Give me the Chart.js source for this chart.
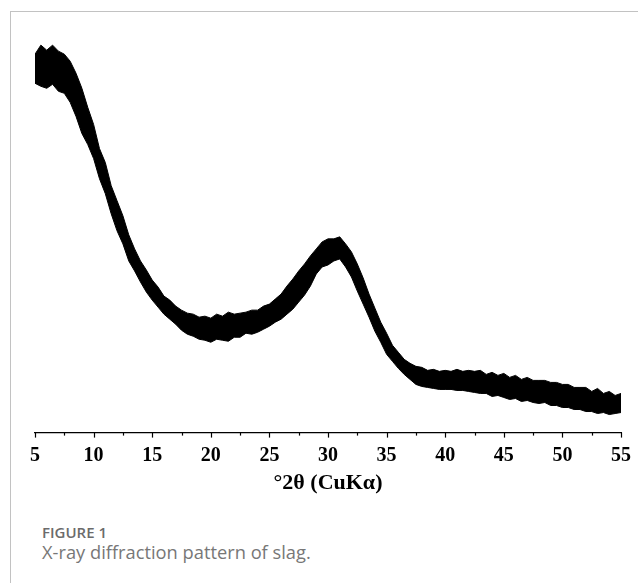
<!DOCTYPE html>
<html>
<head>
<meta charset="utf-8">
<script src="https://cdn.jsdelivr.net/npm/chart.js@4/dist/chart.umd.min.js"></script>
<style>
    html, body { margin: 0; padding: 0; background: #fff; }
    body { width: 638px; height: 583px; position: relative; overflow: hidden; }
    #frame { position: absolute; left: 10px; top: 11px; width: 640px; height: 600px;
             border-top: 1px solid #c2c2c2; border-left: 1px solid #c2c2c2; }
    #chart { position: absolute; left: 0; top: 0; }
    .cap { position: absolute; left: 42px; font-family: "Open Sans", sans-serif; white-space: nowrap; }
    #figno { top: 524px; font-size: 15px; line-height: 17px; font-weight: 600; color: #6b6b6b; }
    #figtxt { top: 541px; font-size: 18.3px; line-height: 21px; color: #777; }
</style>
</head>
<body>
<div id="frame"></div>
<canvas id="chart" width="638" height="499"></canvas>
<div class="cap" id="figno">FIGURE 1</div>
<div class="cap" id="figtxt">X-ray diffraction pattern of slag.</div>
<script>
// 2theta positions (degrees)
var twoTheta = [
    5, 5.5, 6, 6.5, 7, 7.5, 8, 8.5, 9, 9.5,
    10, 10.5, 11, 11.5, 12, 12.5, 13, 13.5, 14, 14.5,
    15, 15.5, 16, 16.5, 17, 17.5, 18, 18.5, 19, 19.5,
    20, 20.5, 21, 21.5, 22, 22.5, 23, 23.5, 24, 24.5,
    25, 25.5, 26, 26.5, 27, 27.5, 28, 28.5, 29, 29.5,
    30, 30.5, 31, 31.5, 32, 32.5, 33, 33.5, 34, 34.5,
    35, 35.5, 36, 36.5, 37, 37.5, 38, 38.5, 39, 39.5,
    40, 40.5, 41, 41.5, 42, 42.5, 43, 43.5, 44, 44.5,
    45, 45.5, 46, 46.5, 47, 47.5, 48, 48.5, 49, 49.5,
    50, 50.5, 51, 51.5, 52, 52.5, 53, 53.5, 54, 54.5, 55
];

// upper edge of the noisy trace (a.u.)
var intensityHigh = [
    377, 386, 381, 386, 380, 377, 370, 358, 343, 324,
    307, 283, 269, 246, 231, 216, 197, 183, 171, 162,
    152, 145, 136, 132, 126, 122, 119, 118, 115, 116,
    114, 118, 116, 120, 118, 119, 120, 122, 122, 126,
    128, 133, 138, 146, 153, 161, 168, 176, 183, 190,
    193, 193, 195, 188, 180, 168, 154, 138, 124, 110,
    99, 87, 80, 73, 69, 66, 65, 62, 63, 61,
    62, 61, 63, 61, 62, 61, 62, 58, 60, 57,
    59, 55, 57, 53, 55, 52, 52, 52, 50, 50,
    48, 48, 45, 45, 45, 41, 44, 39, 41, 37, 39
];

// lower edge of the noisy trace (a.u.)
var intensityLow = [
    348, 345, 343, 347, 340, 338, 329, 315, 298, 287,
    273, 253, 238, 218, 201, 188, 171, 161, 150, 140,
    132, 125, 118, 113, 108, 102, 98, 96, 93, 92,
    90, 93, 92, 91, 95, 95, 99, 98, 100, 103,
    106, 110, 113, 118, 123, 130, 137, 146, 158, 165,
    167, 171, 173, 165, 155, 141, 128, 115, 101, 90,
    78, 71, 64, 58, 53, 48, 46, 45, 44, 43,
    43, 43, 42, 42, 41, 40, 39, 39, 36, 37,
    35, 33, 34, 31, 32, 30, 29, 30, 27, 27,
    25, 25, 23, 23, 21, 21, 19, 20, 18, 19, 20
];

var majorTicks = [5, 10, 15, 20, 25, 30, 35, 40, 45, 50, 55];

function pts(ys) {
    return twoTheta.map(function (x, i) { return { x: x, y: ys[i] }; });
}

// short outward tick marks: long on labelled values, short in between
var tickMarks = {
    id: 'tickMarks',
    afterDraw: function (chart) {
        var sx = chart.scales.x, ctx = chart.ctx, y0 = chart.chartArea.bottom;
        ctx.save();
        ctx.strokeStyle = '#000';
        ctx.lineWidth = 1.2;
        for (var v = sx.min; v <= sx.max + 0.001; v += 2.5) {
            var px = Math.round(sx.getPixelForValue(v)) + 0.5;
            var len = majorTicks.indexOf(v) >= 0 ? 5 : 3;
            ctx.beginPath();
            ctx.moveTo(px, y0);
            ctx.lineTo(px, y0 + len);
            ctx.stroke();
        }
        ctx.restore();
    }
};

new Chart(document.getElementById('chart'), {
    type: 'line',
    data: {
        datasets: [{
            data: pts(intensityHigh),
            borderColor: '#000',
            backgroundColor: '#000',
            borderWidth: 1,
            pointRadius: 0,
            tension: 0,
            fill: '+1'
        }, {
            data: pts(intensityLow),
            borderColor: '#000',
            borderWidth: 1,
            pointRadius: 0,
            tension: 0,
            fill: false
        }]
    },
    options: {
        responsive: false,
        animation: false,
        layout: { padding: { left: 35, right: 17, top: 11, bottom: 0 } },
        plugins: { legend: { display: false }, tooltip: { enabled: false } },
        scales: {
            x: {
                type: 'linear',
                min: 5,
                max: 55,
                afterFit: function (s) { s.paddingLeft = 0; s.paddingRight = 0; },
                grid: { display: false, drawTicks: false },
                border: { display: true, color: '#000', width: 1.2 },
                ticks: {
                    stepSize: 2.5,
                    autoSkip: false,
                    maxRotation: 0,
                    padding: 11.5,
                    color: '#000',
                    font: { family: 'Liberation Serif', size: 20, weight: 'bold' },
                    callback: function (v) { return majorTicks.indexOf(v) >= 0 ? v : ''; }
                },
                title: {
                    display: true,
                    text: '°2θ (CuKα)',
                    color: '#000',
                    padding: { top: -9, bottom: 2 },
                    font: { family: 'Liberation Serif', size: 22, weight: 'bold' }
                }
            },
            y: { display: false, min: 0, max: 420 }
        }
    },
    plugins: [tickMarks]
});
</script>
</body>
</html>
